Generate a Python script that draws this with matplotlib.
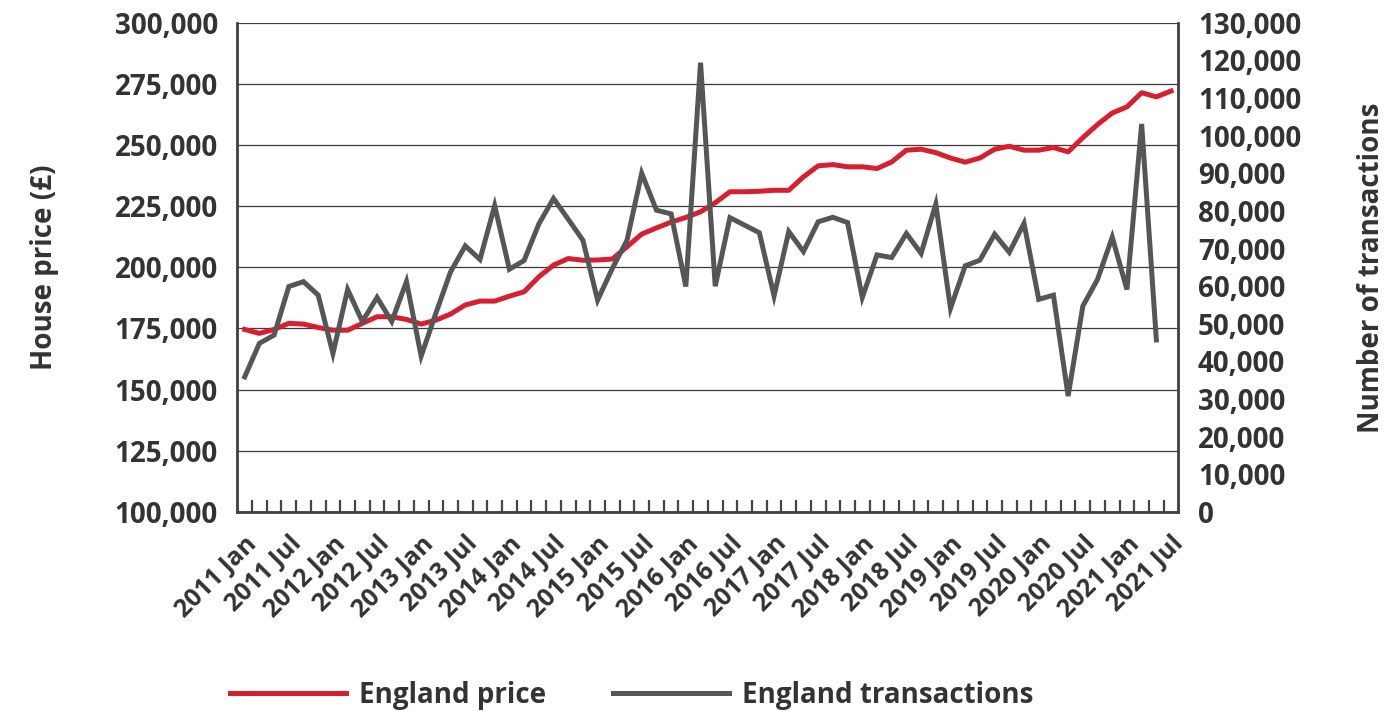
import matplotlib.pyplot as plt
import numpy as np

plt.rcParams['font.family'] = ['Open Sans', 'DejaVu Sans']

# bi-monthly periods, Jan 2011 .. Jul 2021
months = ['Jan', 'Mar', 'May', 'Jul', 'Sep', 'Nov']
periods = [f'{y} {m}' for y in range(2011, 2022) for m in months][:64]

price = [174600, 173000, 174600, 177100, 176800, 175400, 174300, 174300,
         177100, 179800, 179800, 178700, 176800, 178400, 180900, 184600,
         186200, 186200, 188200, 190000, 196100, 200900, 203600, 202900,
         203000, 203400, 208400, 213600, 216100, 218500, 220400, 222700,
         226400, 230900, 230900, 231100, 231500, 231500, 237000, 241500,
         242000, 241100, 241100, 240400, 243100, 247900, 248300, 246900,
         244700, 243000, 244700, 248300, 249500, 247900, 247900, 249000,
         247200, 253000, 258400, 263100, 265600, 271400, 269700, 272100]

transactions = [35900, 44800, 47000, 59900, 61200, 57600, 42100, 59100,
                50600, 57000, 50600, 61200, 41400, 52800, 63800, 70700,
                67100, 81400, 64500, 66800, 76500, 83300, 77800, 72200,
                56300, 64700, 72200, 90000, 80200, 79200, 59900, 119400,
                60000, 78200, 76200, 74200, 57400, 74500, 69200, 77100,
                78300, 76900, 57000, 68300, 67600, 74000, 68700, 81800,
                54100, 65400, 66900, 73800, 69000, 76700, 56500, 57600,
                30800, 54700, 61800, 73000, 59100, 103100, 45700]

red = '#d71f30'
grey = '#555756'
txt = '#333333'

fig = plt.figure(figsize=(13.88, 7.11), dpi=100)
ax = fig.add_axes([0.171, 0.280, 0.678, 0.688])
ax2 = ax.twinx()

x = np.arange(len(periods))
ax.plot(x, price, color=red, lw=3.6, solid_joinstyle='round', zorder=3,
        label='England price')
ax2.plot(x[:len(transactions)], transactions, color=grey, lw=3.6,
         solid_joinstyle='miter', zorder=3, label='England transactions')

ax.set_xlim(-0.5, len(periods) - 0.5)
ax.set_ylim(100000, 300000)
ax2.set_ylim(0, 130000)

ax.set_yticks(np.arange(100000, 300001, 25000))
ax2.set_yticks(np.arange(0, 130001, 10000))
ax.yaxis.set_major_formatter(plt.FuncFormatter(lambda v, p: f'{int(v):,}'))
ax2.yaxis.set_major_formatter(plt.FuncFormatter(lambda v, p: f'{int(v):,}'))
for a in (ax, ax2):
    a.tick_params(axis='y', length=0, labelsize=20, labelcolor=txt, pad=14)
    for lab in a.get_yticklabels():
        lab.set_fontweight('bold')

ax.grid(axis='y', color='#3a3a3a', lw=0.9)
ax.set_axisbelow(True)

# category ticks between periods, labels every six months
ax.set_xticks(np.arange(0.5, len(periods) - 1, 1), minor=True)
ax.set_xticks(x[::3])
ax.set_xticklabels(periods[::3], rotation=45, ha='right', va='top',
                   rotation_mode='anchor', fontsize=18, color=txt,
                   fontweight='bold')
ax.tick_params(axis='x', which='major', length=0, pad=14)
ax.tick_params(axis='x', which='minor', direction='in', length=9,
               width=1.6, color='#444444')

for a in (ax, ax2):
    a.spines['top'].set_visible(False)
    for s in ('left', 'right', 'bottom'):
        a.spines[s].set_color('#444444')
        a.spines[s].set_linewidth(1.8)

ax.set_ylabel('House price (£)', fontsize=20, fontweight='bold', color=txt,
              labelpad=40)
ax2.set_ylabel('Number of transactions', fontsize=20, fontweight='bold',
               color=txt, labelpad=40)

h1, l1 = ax.get_legend_handles_labels()
h2, l2 = ax2.get_legend_handles_labels()
leg = fig.legend(h1 + h2, l1 + l2, loc='center', bbox_to_anchor=(0.455, 0.022),
                 ncol=2, frameon=False, fontsize=20, handlelength=4.2,
                 handletextpad=0.45, columnspacing=2.4)
for t in leg.get_texts():
    t.set_color(txt)
    t.set_fontweight('bold')

fig.savefig('out.png', dpi=100)
